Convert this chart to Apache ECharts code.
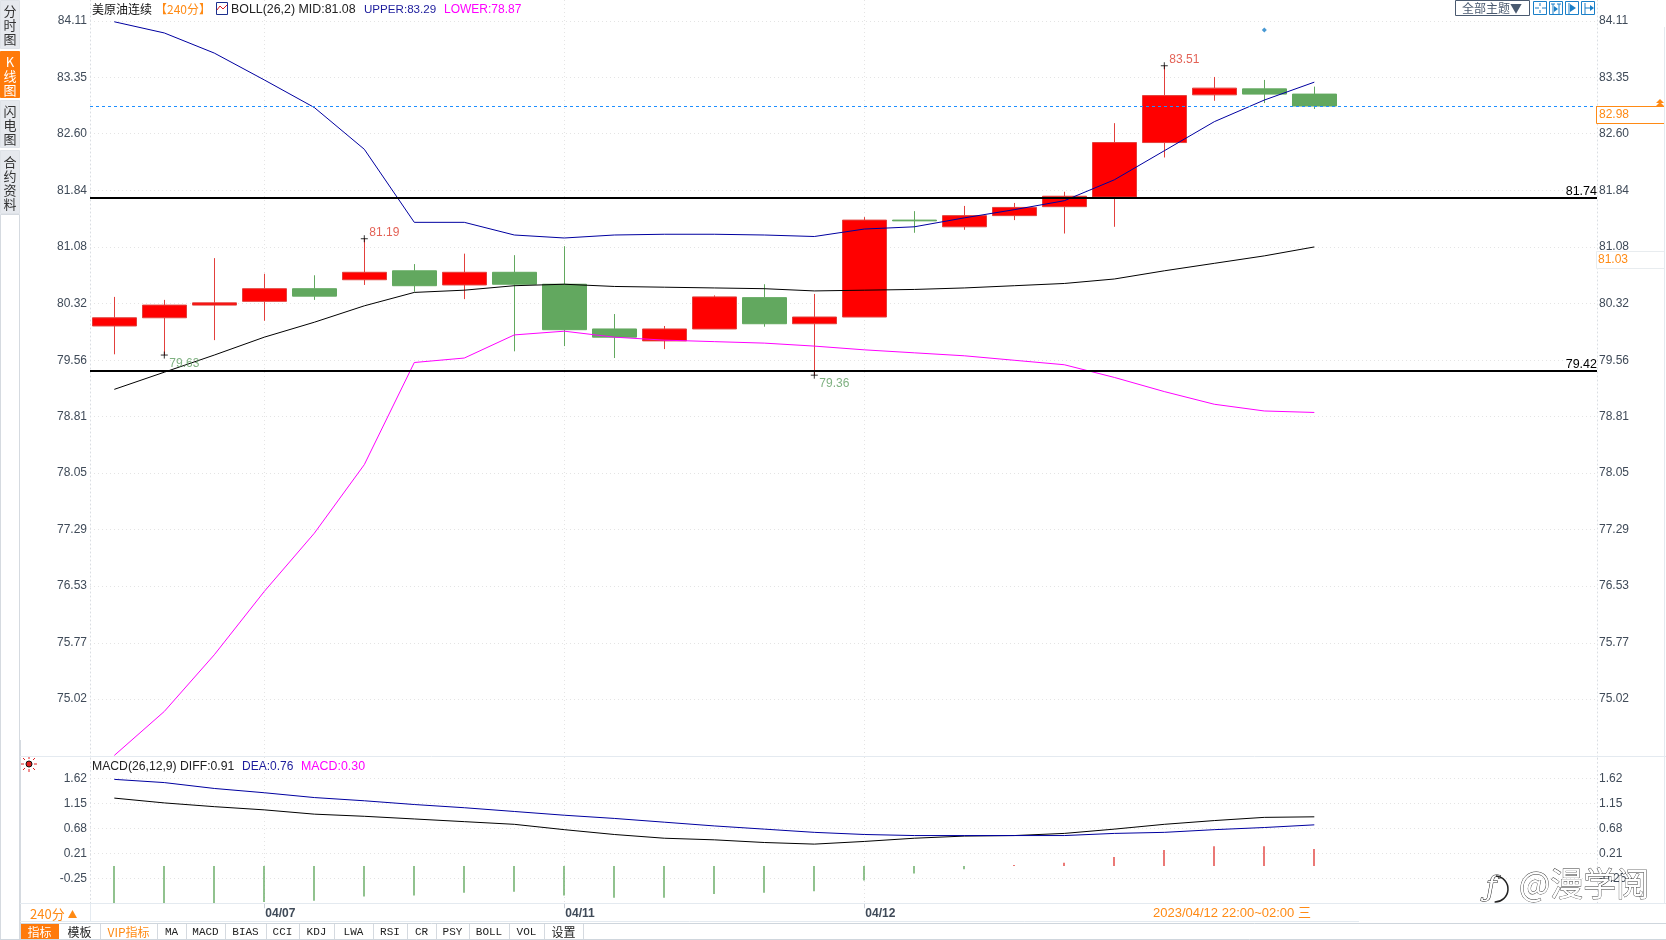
<!DOCTYPE html>
<html>
<head>
<meta charset="utf-8">
<title>美原油连续</title>
<script src="https://cdn.jsdelivr.net/npm/echarts@6/dist/echarts.min.js"></script>
<style>
  html, body { margin: 0; padding: 0; background: #fff; }
  #chart { width: 1666px; height: 940px; }
</style>
</head>
<body>
<div id="chart"></div>
<script>
// 240分 K线
const opens =  [80.02,80.13,80.30,80.35,80.52,80.64,80.76,80.57,80.74,80.58,79.98,79.82,79.98,80.40,80.05,80.14,81.44,81.35,81.50,81.62,81.75,82.48,83.12,83.20,83.13];
const closes = [80.13,80.30,80.33,80.52,80.42,80.74,80.56,80.74,80.58,79.97,79.87,79.98,80.41,80.05,80.14,81.44,81.43,81.50,81.61,81.76,82.48,83.11,83.21,83.13,82.97];
const lows =   [79.64,79.63,79.83,80.09,80.37,80.57,80.48,80.38,79.68,79.75,79.59,79.71,79.98,80.01,79.36,80.14,81.27,81.31,81.44,81.26,81.35,82.28,83.04,83.01,82.93];
const highs =  [80.41,80.37,80.93,80.72,80.70,81.19,80.85,80.99,80.97,81.09,80.18,80.02,80.43,80.58,80.45,81.48,81.56,81.63,81.67,81.82,82.74,83.51,83.36,83.32,83.23];

// BOLL(26,2)
const bollUpper = [84.10,83.95,83.68,83.32,82.95,82.39,81.41,81.41,81.24,81.20,81.24,81.25,81.25,81.24,81.22,81.32,81.35,81.47,81.58,81.70,81.98,82.37,82.76,83.05,83.29];
const bollMid =   [79.17,79.40,79.63,79.87,80.07,80.29,80.47,80.50,80.56,80.58,80.55,80.54,80.53,80.52,80.49,80.50,80.51,80.53,80.56,80.59,80.65,80.76,80.86,80.96,81.08];
const bollLower = [74.26,74.85,75.61,76.46,77.24,78.16,79.53,79.59,79.90,79.95,79.87,79.83,79.81,79.79,79.75,79.70,79.66,79.62,79.56,79.50,79.33,79.14,78.97,78.88,78.86];

// MACD(26,12,9)
const macdDiff = [1.25,1.16,1.09,1.03,0.95,0.91,0.86,0.81,0.76,0.66,0.57,0.50,0.47,0.42,0.39,0.44,0.50,0.54,0.55,0.59,0.67,0.76,0.83,0.89,0.90];
const macdDea =  [1.60,1.54,1.43,1.35,1.26,1.20,1.13,1.07,1.00,0.93,0.87,0.80,0.73,0.67,0.61,0.57,0.55,0.55,0.55,0.55,0.59,0.61,0.66,0.70,0.75];
const macdBars = [-0.72,-0.72,-0.72,-0.69,-0.67,-0.59,-0.57,-0.52,-0.50,-0.57,-0.61,-0.61,-0.54,-0.52,-0.49,-0.29,-0.16,-0.08,0.00,0.04,0.15,0.28,0.35,0.35,0.30];

// 刻度
const priceTicks = [84.11,83.35,82.60,81.84,81.08,80.32,79.56,78.81,78.05,77.29,76.53,75.77,75.02];
const macdTicks = [1.62,1.15,0.68,0.21,-0.25];
const dateIndexes = [3,9,15];
const dateLabels = ['04/07','04/11','04/12'];

// 高低点标注
const extremeIndexes = [5,21,14,1];
const extremeValues = [81.19,83.51,79.36,79.63];

// 支撑压力线
const levelLines = [81.74,79.42];
const lastPrice = 82.97;
const alertPoint = [23,83.99];

const tabNames = ['指标','模板','VIP指标','MA','MACD','BIAS','CCI','KDJ','LWA','RSI','CR','PSY','BOLL','VOL','设置'];
const tabEdges = [20,59,100,157,186,225,266,299,334,373,407,436,469,509,544,583];

const RED = '#ff0000', RED_LINE = '#e2403c', GREEN = '#62a85f';
const GRID_COLOR = '#e4e4e4', EDGE_COLOR = '#e4eaf0', LABEL_COLOR = '#3f4a58';
const ORANGE = '#ff8a14', ICON_BLUE = '#1a7fc8';
const SANS = '"Liberation Sans", Arial, sans-serif';
const CJK = '"Noto Sans CJK SC", sans-serif';
const macdBase = -0.02;

// 一根K线 50px, 第一根中心在 114.3
const xMin = (90 - 114.3) / 50;
const xMax = (1597 - 114.3) / 50;

const pair = arr => arr.map((v, i) => [i, v]);

function txt(x, y, text, fill, font, extra) {
  return {
    type: 'text', x, y, silent: true, z: 20,
    style: Object.assign({ text, fill: fill || '#222', font: font || '12px ' + CJK, textVerticalAlign: 'middle' }, extra || {}),
  };
}
function box(x, y, w, h, fill, stroke) {
  return {
    type: 'rect', x, y, silent: true, z: 10,
    shape: { width: w, height: h },
    style: { fill: fill || 'none', stroke: stroke || 'none', lineWidth: 1 },
  };
}
function seg(x1, y1, x2, y2, color) {
  return { type: 'line', silent: true, z: 11, shape: { x1, y1, x2, y2 }, style: { stroke: color, lineWidth: 1 } };
}
function hline(x1, x2, y, color) {
  return seg(x1, y, x2, y, color);
}
function vline(x, y1, y2, color) {
  return seg(x, y1, x, y2, color);
}
function tri(points, color) {
  return { type: 'polygon', silent: true, z: 11, shape: { points }, style: { fill: color } };
}

function sideTab(y, h, label, active, textY) {
  return [
    box(0.5, y + 0.5, 19, h, active ? '#ff7a0a' : '#e6e9ee', active ? '#ff7a0a' : '#dfe3e8'),
    txt(10, textY, label, active ? '#fff' : '#333', '13px ' + CJK, { align: 'center', textAlign: 'center', lineHeight: 14 }),
  ];
}

function toolIcons() {
  const g = [];
  [1533, 1549, 1565, 1581].forEach(x => g.push(box(x + 0.5, 1.5, 13, 13, '#fff', ICON_BLUE)));
  // 十字
  g.push(hline(1535, 1539, 8, ICON_BLUE), hline(1542, 1546, 8, ICON_BLUE), vline(1540, 3, 6, ICON_BLUE), vline(1540, 10, 13, ICON_BLUE));
  // 区间
  g.push(vline(1553, 4, 14, ICON_BLUE), vline(1559, 4, 14, ICON_BLUE), hline(1551, 1555, 4, ICON_BLUE), hline(1557, 1561, 4, ICON_BLUE), tri([[1554, 6], [1558, 9], [1554, 12]], ICON_BLUE));
  // 向右
  g.push(vline(1569, 3, 14, ICON_BLUE), tri([[1570, 4], [1576, 8], [1570, 12]], ICON_BLUE));
  // 最右
  g.push(vline(1585, 3, 14, ICON_BLUE), hline(1585, 1591, 8, ICON_BLUE), tri([[1590, 5], [1594, 8], [1590, 11]], ICON_BLUE));
  return g;
}

function chrome() {
  const g = [];
  // 左侧竖排页签
  g.push(...sideTab(0, 48, '分\n时\n图', false, 25));
  g.push(...sideTab(51, 46, 'K\n线\n图', true, 76));
  g.push(...sideTab(100, 47, '闪\n电\n图', false, 125));
  g.push(...sideTab(150, 63, '合\n约\n资\n料', false, 183));
  g.push(box(0.5, 214.5, 19, 725, '#fff', '#d5dae0'));

  // 顶部标题
  g.push(txt(92, 9.5, '美原油连续', '#111', '12px ' + CJK));
  g.push(txt(155, 9.5, '【240分】', ORANGE, '12px ' + CJK));
  g.push(box(216.5, 2.5, 11, 12, '#fff', '#1c2f8e'));
  g.push({ type: 'polyline', silent: true, z: 11, shape: { points: [[217, 10], [220, 6], [223, 9], [227, 5]] }, style: { stroke: '#e02020', fill: 'none', lineWidth: 1 } });
  g.push(txt(231, 9.5, 'BOLL(26,2) MID:81.08', '#222', '12.4px ' + SANS));
  g.push(txt(364, 9.5, 'UPPER:83.29', '#1c1c9c', '11.6px ' + SANS));
  g.push(txt(444, 9.5, 'LOWER:78.87', '#ff00ff', '12px ' + SANS));

  // 右上按钮
  g.push(box(1455.5, 0.5, 74, 15, '#fff', '#4a5a70'));
  g.push(txt(1462, 8.5, '全部主题▼', '#4a5a70', '12px ' + CJK));
  g.push(...toolIcons());

  // MACD 标题
  g.push(txt(92, 767, 'MACD(26,12,9) DIFF:0.91', '#222', '12.2px ' + SANS));
  g.push(txt(242, 767, 'DEA:0.76', '#1c1c9c', '12px ' + SANS));
  g.push(txt(301, 767, 'MACD:0.30', '#ff00ff', '12.4px ' + SANS));
  g.push({ type: 'circle', silent: true, z: 11, shape: { cx: 29, cy: 764, r: 3 }, style: { fill: '#e02020', stroke: '#111', lineWidth: 1 } });
  [[29, 756, 29, 759], [29, 769, 29, 772], [21, 764, 24, 764], [34, 764, 37, 764], [23, 758, 25, 760], [33, 768, 35, 770], [35, 758, 33, 760], [25, 768, 23, 770]].forEach(p => {
    g.push(seg(p[0], p[1], p[2], p[3], '#e02020'));
  });

  // 边框线
  g.push(vline(20.5, 740, 940, '#d5dae0'));
  g.push(hline(20, 1666, 756.5, EDGE_COLOR));
  g.push(hline(20, 1666, 903.5, EDGE_COLOR));
  g.push(vline(1664.5, 27, 903, EDGE_COLOR));
  g.push(vline(90.5, 903, 921, EDGE_COLOR));
  g.push(hline(20, 1359, 921.5, EDGE_COLOR));
  g.push(hline(20, 1666, 923.5, '#cfd6dd'));
  g.push(hline(0, 1666, 939.5, '#cfd6dd'));

  // 周期, 当前K线时间
  g.push(txt(30, 914, '240分', ORANGE, '13px ' + CJK));
  g.push(tri([[72.5, 910], [77, 918], [68, 918]], ORANGE));
  g.push(txt(1153, 913, '2023/04/12 22:00~02:00 三', ORANGE, '13px ' + SANS + ', ' + CJK));

  // 价格框
  g.push(box(1596.5, 106.5, 68, 17, '#fff', ORANGE));
  g.push(txt(1599, 115, '82.98', ORANGE, '12px ' + SANS));
  g.push(box(1596.5, 251.5, 68, 17, '#fff', '#e8ecef'));
  g.push(txt(1598, 260, '81.03', ORANGE, '12px ' + SANS));
  [99, 102].forEach(y => g.push(tri([[1660, y], [1664, y + 4], [1656, y + 4]], ORANGE)));

  // 底部页签
  tabNames.forEach((name, i) => {
    const a = tabEdges[i], b = tabEdges[i + 1];
    const cjk = /[指模设]/.test(name);
    if (i === 0) g.push(box(a, 924, b - a, 15.5, '#ff7a0a'));
    else g.push(vline(b + 0.5, 924, 939, '#d5dae0'));
    g.push(txt((a + b) / 2, 932, name, i === 0 ? '#fff' : i === 2 ? ORANGE : '#222',
      cjk ? '12px ' + CJK : '11px "Liberation Mono", monospace', { textAlign: 'center', align: 'center' }));
  });

  // 水印
  g.push(txt(1519, 883, '@漫学阅', '#fff', '33px ' + CJK, { stroke: '#333', lineWidth: 0.8 }));
  g.push(txt(1486, 889, 'ƒ', '#fff', 'italic 28px "DejaVu Serif", serif', { stroke: '#111', lineWidth: 1 }));
  g.push({ type: 'arc', silent: true, z: 20, shape: { cx: 1495, cy: 889, r: 13, startAngle: -1.5, endAngle: 1.6 }, style: { stroke: '#222', fill: 'none', lineWidth: 1.5 } });
  return g;
}

const myChart = echarts.init(document.getElementById('chart'), null, { renderer: 'canvas' });

const yLabelBase = { color: LABEL_COLOR, fontSize: 12, fontFamily: SANS, padding: [2, 0, 0, 0] };
const gridLine = { show: true, lineStyle: { color: GRID_COLOR, type: [1, 3], width: 1 } };
const yEdge = { show: true, onZero: false, lineStyle: { color: '#d9dde2', type: [1, 3] } };
const price2 = v => Number(v).toFixed(2);

const option = {
  animation: false,
  backgroundColor: '#fff',
  textStyle: { fontFamily: SANS },
  graphic: chrome(),
  grid: [
    { left: 90, right: 69, top: 0, height: 757 },
    { left: 90, right: 69, top: 757, height: 146.3 },
  ],
  xAxis: [
    {
      type: 'value', gridIndex: 0, min: xMin, max: xMax,
      axisLine: { show: false, onZero: false }, axisTick: { show: false, customValues: dateIndexes },
      axisLabel: { show: false, customValues: dateIndexes }, splitLine: gridLine,
    },
    {
      type: 'value', gridIndex: 1, min: xMin, max: xMax,
      axisLine: { onZero: false, lineStyle: { color: EDGE_COLOR } },
      axisTick: { show: true, length: 5, lineStyle: { color: '#c9d0d8' }, customValues: dateIndexes },
      axisLabel: {
        customValues: dateIndexes, align: 'left', margin: 4, padding: [0, 0, 0, 1],
        color: LABEL_COLOR, fontSize: 12, fontWeight: 'bold', fontFamily: SANS,
        formatter: v => dateLabels[dateIndexes.indexOf(v)],
      },
      splitLine: gridLine,
    },
  ],
  yAxis: [
    {
      type: 'value', gridIndex: 0, position: 'left', min: 74.239, max: 84.392,
      axisLine: yEdge, axisTick: { show: false, customValues: priceTicks },
      axisLabel: { ...yLabelBase, customValues: priceTicks, margin: 3, formatter: price2 },
      splitLine: gridLine,
    },
    {
      type: 'value', gridIndex: 0, position: 'right', min: 74.239, max: 84.392,
      axisLine: yEdge, axisTick: { show: false, customValues: priceTicks },
      axisLabel: { ...yLabelBase, customValues: priceTicks, margin: 2, formatter: price2 },
      splitLine: { show: false },
    },
    {
      type: 'value', gridIndex: 1, position: 'left', min: -0.716, max: 2.018,
      axisLine: yEdge, axisTick: { show: false, customValues: macdTicks },
      axisLabel: { ...yLabelBase, customValues: macdTicks, margin: 3, formatter: price2 },
      splitLine: gridLine,
    },
    {
      type: 'value', gridIndex: 1, position: 'right', min: -0.716, max: 2.018,
      axisLine: yEdge, axisTick: { show: false, customValues: macdTicks },
      axisLabel: { ...yLabelBase, customValues: macdTicks, margin: 2, formatter: price2 },
      splitLine: { show: false },
    },
  ],
  series: [
    {
      type: 'candlestick', xAxisIndex: 0, yAxisIndex: 0, barWidth: 45,
      data: opens.map((o, i) => [i, o, closes[i], lows[i], highs[i]]),
      itemStyle: { color: RED, color0: GREEN, borderColor: RED_LINE, borderColor0: GREEN, borderWidth: 1 },
    },
    {
      type: 'line', name: 'MID', xAxisIndex: 0, yAxisIndex: 0, data: pair(bollMid), showSymbol: false,
      lineStyle: { color: '#000', width: 1 }, z: 3,
    },
    {
      type: 'line', name: 'UPPER', xAxisIndex: 0, yAxisIndex: 0, data: pair(bollUpper), showSymbol: false,
      lineStyle: { color: '#0000a0', width: 1 }, z: 3,
    },
    {
      type: 'line', name: 'LOWER', xAxisIndex: 0, yAxisIndex: 0, data: pair(bollLower), showSymbol: false,
      lineStyle: { color: '#ff00ff', width: 1 }, z: 3,
      markLine: {
        silent: true, symbol: 'none', animation: false, z: 4,
        data: [
          ...levelLines.map(v => ({
            yAxis: v,
            lineStyle: { color: '#000', width: 2, type: 'solid' },
            label: { show: true, position: 'insideEndTop', distance: [0, 0], formatter: price2(v), color: '#000', fontSize: 12.5, fontFamily: SANS, fontWeight: 500 },
          })),
          {
            yAxis: lastPrice,
            lineStyle: { color: '#1e8fff', width: 1, type: [3, 3] },
            label: { show: false },
          },
        ],
      },
    },
    {
      // 最高最低点的 + 号
      type: 'scatter', xAxisIndex: 0, yAxisIndex: 0, z: 5,
      symbol: 'path://M0 5H10M5 0V10', symbolSize: 7,
      itemStyle: { color: 'none', borderColor: '#000', borderWidth: 1 },
      data: extremeIndexes.map((x, i) => {
        const up = extremeValues[i] > closes[x];
        return {
          value: [x, extremeValues[i]],
          label: {
            show: true, position: 'right', distance: 2, offset: [-3, up ? -6 : 9],
            formatter: price2(extremeValues[i]), fontSize: 12, fontFamily: SANS,
            color: up ? '#dc3a2a' : '#5f9e62',
          },
        };
      }),
    },
    {
      type: 'scatter', xAxisIndex: 0, yAxisIndex: 0, z: 5, symbol: 'diamond', symbolSize: 5,
      itemStyle: { color: ICON_BLUE }, data: [alertPoint],
    },
    {
      type: 'custom', xAxisIndex: 1, yAxisIndex: 2, z: 2,
      encode: { x: 0, y: 1 },
      data: pair(macdBars),
      renderItem: (params, api) => {
        const a = api.coord([api.value(0), macdBase]);
        const b = api.coord([api.value(0), api.value(1)]);
        const x = Math.round(a[0]);
        return {
          type: 'line',
          shape: { x1: x, y1: a[1], x2: x, y2: b[1] },
          style: { stroke: api.value(1) >= macdBase ? RED_LINE : GREEN, lineWidth: 1.4 },
        };
      },
    },
    {
      type: 'line', name: 'DIFF', xAxisIndex: 1, yAxisIndex: 2, data: pair(macdDiff), showSymbol: false,
      lineStyle: { color: '#000', width: 1 }, z: 3,
    },
    {
      type: 'line', name: 'DEA', xAxisIndex: 1, yAxisIndex: 2, data: pair(macdDea), showSymbol: false,
      lineStyle: { color: '#0000a0', width: 1 }, z: 3,
    },
  ],
};

myChart.setOption(option);
</script>
</body>
</html>
